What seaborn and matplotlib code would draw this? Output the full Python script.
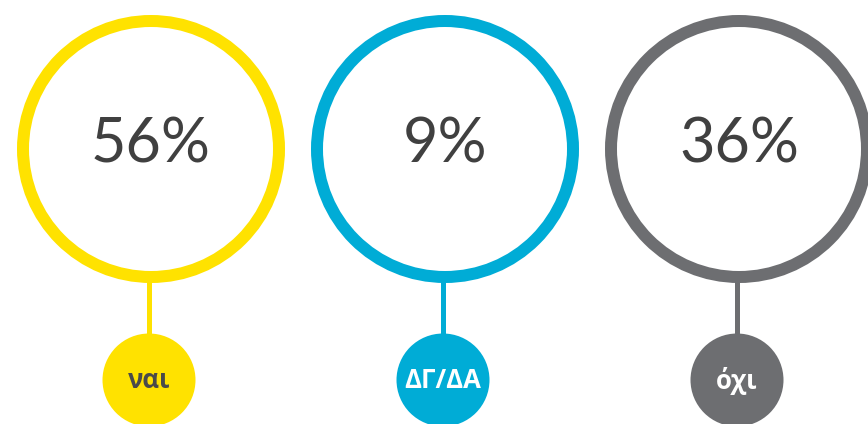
import matplotlib
matplotlib.use("Agg")
import matplotlib.pyplot as plt
from matplotlib.patches import Circle
import seaborn as sns

# Survey answers
categories = ["ναι", "ΔΓ/ΔΑ", "όχι"]
shares = [56, 9, 36]
ring_colors = ["#FFE200", "#00ACD6", "#6D6E71"]
label_colors = ["#4A4A4A", "#FFFFFF", "#FFFFFF"]

sns.set_theme(style="white")
plt.rcParams["font.family"] = ["Lato", "DejaVu Sans"]

W, H = 868, 424
fig = plt.figure(figsize=(W / 100, H / 100), dpi=100)
ax = fig.add_axes([0, 0, 1, 1])
ax.set_xlim(0, W)
ax.set_ylim(H, 0)
ax.set_aspect("equal")
ax.axis("off")

x0, step = 151, 294
ring_y, ring_r, ring_w = 149, 128, 12
dot_y, dot_r = 380, 46.5

for i, (cat, val, col, lc) in enumerate(zip(categories, shares, ring_colors, label_colors)):
    cx = x0 + i * step
    # connector from ring to label dot
    ax.plot([cx - 2, cx - 2], [ring_y + ring_r, dot_y - dot_r + 2], color=col, lw=3.6,
            solid_capstyle="butt", zorder=1)
    ax.add_patch(Circle((cx, ring_y), ring_r, fill=False, edgecolor=col,
                        linewidth=ring_w * 0.72, zorder=2))
    ax.add_patch(Circle((cx - 2, dot_y), dot_r, facecolor=col, edgecolor="none", zorder=3))
    ax.text(cx, ring_y - 4, f"{val}%", ha="center", va="center", fontsize=44,
            fontweight="normal", color="#404040", zorder=4)
    ax.text(cx - 2, dot_y + 1, cat, ha="center", va="center", fontsize=18.5,
            fontweight="bold", family=["Open Sans", "DejaVu Sans"], color=lc, zorder=4)

fig.savefig("out.png", dpi=100)
